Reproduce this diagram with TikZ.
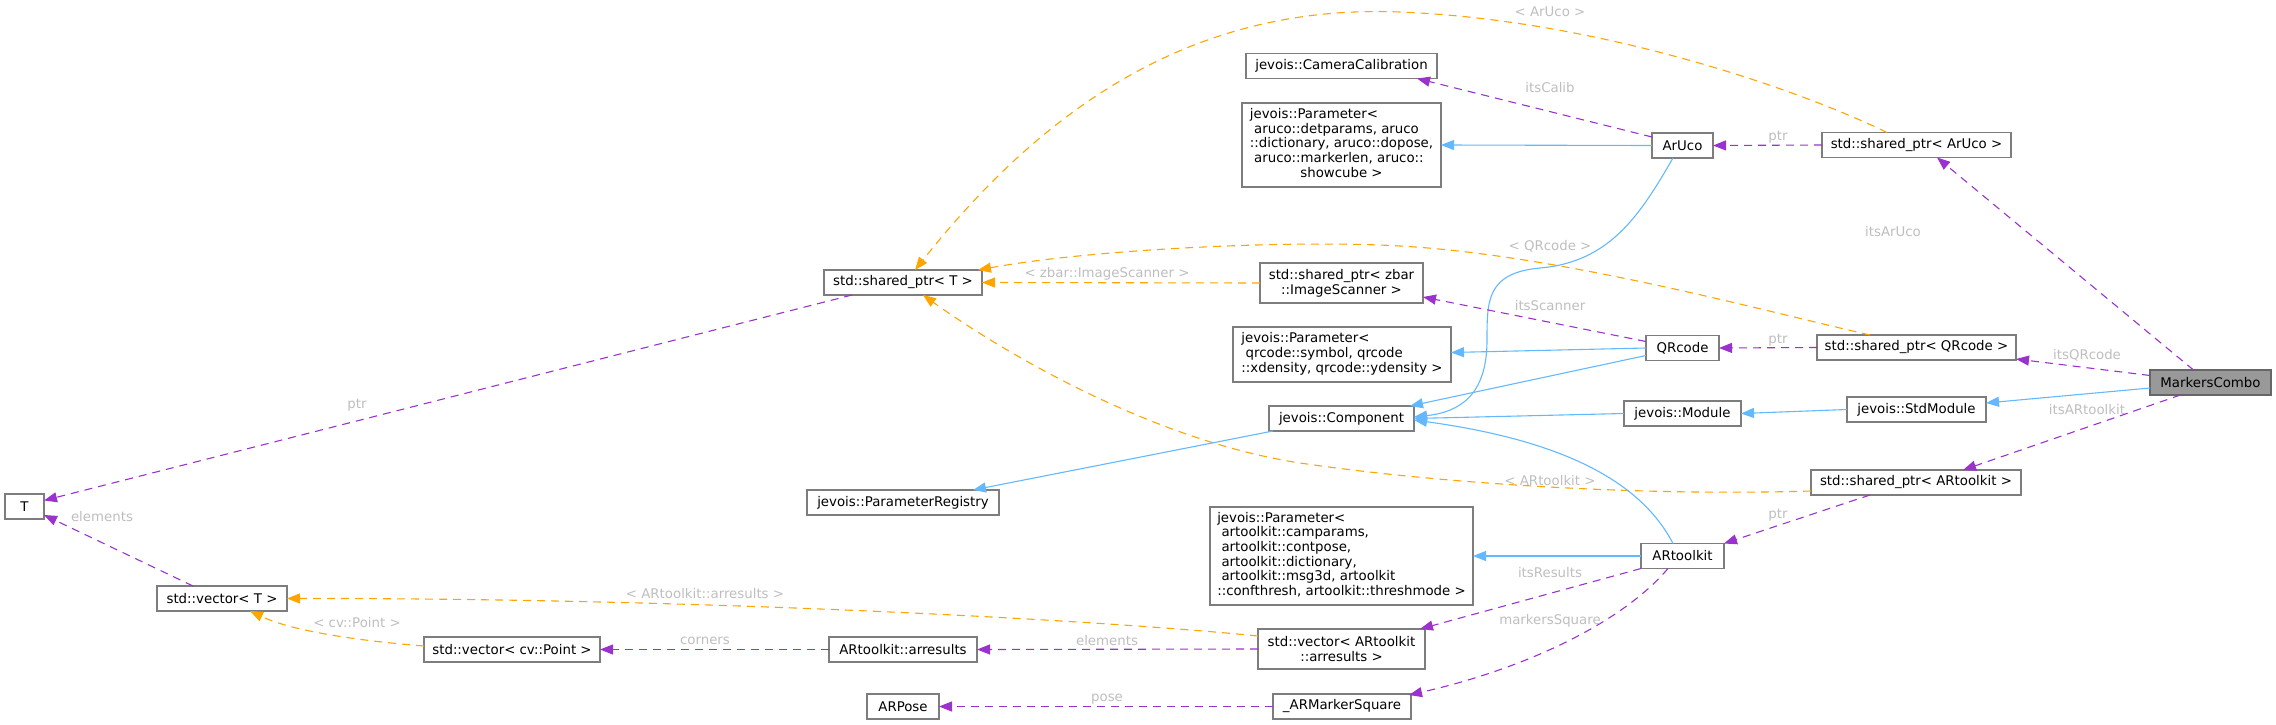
\documentclass[tikz,border=0pt]{standalone}
\usepackage{fontspec}
\setmainfont{DejaVu Sans}
\usetikzlibrary{arrows.meta,calc}
\definecolor{edgepurple}{RGB}{154,50,205}
\definecolor{edgeorange}{RGB}{255,165,0}
\definecolor{edgeblue}{RGB}{99,184,255}
\definecolor{boxgray}{RGB}{125,125,125}
\definecolor{labelgray}{RGB}{190,190,190}
\definecolor{rootfill}{RGB}{153,153,153}
\tikzset{
  cls/.style={draw=boxgray, line width=1.3pt, fill=white, inner sep=0pt, outer sep=0pt, align=center, font=\fontsize{13.33}{14.67}\selectfont},
  rootcls/.style={cls, fill=rootfill, draw={rgb,255:red,102;green,102;blue,102}},
  inh/.style={draw=edgeblue, line width=1.1pt, -{Triangle[length=13pt,width=10pt]}},
  usage/.style={draw=edgepurple, line width=1.1pt, dash pattern=on 8pt off 6pt, -{Triangle[length=13pt,width=10pt]}},
  tmpl/.style={draw=edgeorange, line width=1.1pt, dash pattern=on 8pt off 6pt, -{Triangle[length=13pt,width=10pt]}},
  elab/.style={text=labelgray, font=\fontsize{13.33}{14.67}\selectfont, inner sep=0pt},
}
\begin{document}
\begin{tikzpicture}[x=1pt,y=-1pt]
\useasboundingbox (0,0) rectangle (2276,725);
% ---- nodes
\node[cls, minimum width=39pt, minimum height=25pt] (T) at (24.5,506.5) {T};
\node[cls, minimum width=130pt, minimum height=25pt] (vecT) at (222,598.5) {std::vector< T >};
\node[cls, minimum width=176pt, minimum height=25pt] (vecPt) at (512,649.5) {std::vector< cv::Point >};
\node[cls, minimum width=158pt, minimum height=25pt] (spT) at (903,282.5) {std::shared\_ptr< T >};
\node[cls, minimum width=192pt, minimum height=25pt] (preg) at (903,502.5) {jevois::ParameterRegistry};
\node[cls, minimum width=148pt, minimum height=25pt] (arres) at (903,649.5) {ARtoolkit::arresults};
\node[cls, minimum width=72pt, minimum height=25pt] (arpose) at (903,706.5) {ARPose};
\node[cls, minimum width=191pt, minimum height=25pt] (camcal) at (1341.5,66) {jevois::CameraCalibration};
\node[cls, minimum width=199pt, minimum height=84pt] (parAruco) at (1341.5,145) {\begin{tabular}{@{}l@{}}jevois::Parameter<\\\ aruco::detparams, aruco\\::dictionary, aruco::dopose,\\\ aruco::markerlen, aruco::\\\multicolumn{1}{@{}c@{}}{showcube >}\end{tabular}};
\node[cls, minimum width=163pt, minimum height=40pt] (spZbar) at (1341.5,283) {std::shared\_ptr< zbar\\::ImageScanner >};
\node[cls, minimum width=218pt, minimum height=55pt] (parQr) at (1342,354.5) {\begin{tabular}{@{}l@{}}jevois::Parameter<\\\ qrcode::symbol, qrcode\\::xdensity, qrcode::ydensity >\end{tabular}};
\node[cls, minimum width=145pt, minimum height=25pt] (comp) at (1341.5,418.5) {jevois::Component};
\node[cls, minimum width=263pt, minimum height=98pt] (parAR) at (1341.5,556) {\begin{tabular}{@{}l@{}}jevois::Parameter<\\\ artoolkit::camparams,\\\ artoolkit::contpose,\\\ artoolkit::dictionary,\\\ artoolkit::msg3d, artoolkit\\::confthresh, artoolkit::threshmode >\end{tabular}};
\node[cls, minimum width=167pt, minimum height=40pt] (vecAR) at (1341.5,649) {std::vector< ARtoolkit\\::arresults >};
\node[cls, minimum width=138pt, minimum height=25pt] (arms) at (1342,706.5) {\_ARMarkerSquare};
\node[cls, minimum width=61pt, minimum height=25pt] (aruco) at (1682.5,145.5) {ArUco};
\node[cls, minimum width=73pt, minimum height=25pt] (qrcode) at (1682.5,348) {QRcode};
\node[cls, minimum width=117pt, minimum height=25pt] (module) at (1682.5,413.5) {jevois::Module};
\node[cls, minimum width=83pt, minimum height=25pt] (artk) at (1682.5,556) {ARtoolkit};
\node[cls, minimum width=189pt, minimum height=25pt] (spAruco) at (1916.5,145) {std::shared\_ptr< ArUco >};
\node[cls, minimum width=199pt, minimum height=25pt] (spQr) at (1916.5,347.5) {std::shared\_ptr< QRcode >};
\node[cls, minimum width=139pt, minimum height=25pt] (stdmod) at (1916.5,409.5) {jevois::StdModule};
\node[cls, minimum width=210pt, minimum height=25pt] (spAR) at (1916,482.5) {std::shared\_ptr< ARtoolkit >};
\node[rootcls, minimum width=121pt, minimum height=25pt] (mc) at (2210.5,382.5) {MarkersCombo};
% ---- edges from MarkersCombo
\draw[inh] ($(mc.west)+(0,5.5)$) -- ($(stdmod.east)+(0,-6.5)$);
\draw[usage] ($(mc.north)+(-17,0)$) -- ($(spAruco.south)+(20.5,0)$);
\draw[usage] ($(mc.west)+(0,-7)$) -- ($(spQr.east)+(0,11.5)$);
\draw[usage] ($(mc.south)+(-30,0)$) -- ($(spAR.north)+(47,0)$);
% ---- shared_ptr edges
\draw[usage] (spAruco.west) -- (aruco.east);
\draw[tmpl] ($(spAruco.north)+(-29.5,0)$) .. controls (1800,90) and (1600,20) .. (1400,12) .. controls (1200,4) and (1050,100) .. ($(spT.north)+(12,0)$);
\draw[usage] (spQr.west) -- (qrcode.east);
\draw[tmpl] ($(spQr.north)+(-46.5,0)$) .. controls (1760,310) and (1560,255) .. (1400,246) .. controls (1300,240) and (1100,248) .. ($(spT.north east)+(-4,0)$);
\draw[tmpl] (spZbar.west) -- (spT.east);
\draw[tmpl] ($(spAR.west)+(0,8.5)$) .. controls (1650,496) and (1450,485) .. (1300,463) .. controls (1150,440) and (1000,350) .. ($(spT.south)+(20,0)$);
\draw[usage] ($(spAR.south)+(-46,0)$) -- (artk.north east);
% ---- ArUco
\draw[usage] ($(aruco.north west)+(0,4)$) -- ($(camcal.south)+(75.5,0)$);
\draw[inh] (aruco.west) -- (parAruco.east);
\draw[inh] ($(aruco.south)+(-9.5,0)$) .. controls (1640,215) and (1610,262) .. (1540,268) .. controls (1487,273) and (1487,300) .. (1487,340) .. controls (1487,395) and (1460,412) .. ($(comp.east)+(0,-1.5)$);
% ---- QRcode
\draw[inh] (qrcode.west) -- ($(parQr.east)+(0,-2)$);
\draw[inh] ($(qrcode.south west)+(0,-5)$) -- ($(comp.north east)+(-4,0)$);
\draw[usage] ($(qrcode.north west)+(0,6)$) -- ($(spZbar.south east)+(0,-6)$);
% ---- Module
\draw[inh] (module.west) -- (comp.east);
\draw[inh] (stdmod.west) -- (module.east);
\draw[inh] ($(comp.south west)+(4,0)$) -- ($(preg.north east)+(-26,0)$);
% ---- ARtoolkit
\draw[inh] (artk.west) -- (parAR.east);
\draw[inh] ($(artk.north)+(-9.5,0)$) .. controls (1640,480) and (1560,440) .. ($(comp.east)+(0,1.5)$);
\draw[usage] (artk.south west) -- ($(vecAR.north east)+(-5,0)$);
\draw[usage] ($(artk.south)+(-14.5,0)$) .. controls (1620,625) and (1520,670) .. ($(arms.north east)+(-2,1)$);
% ---- left part
\draw[usage] ($(spT.south west)+(28,0)$) -- ($(T.east)+(0,-6)$);
\draw[usage] ($(vecT.north)+(-29,0)$) -- ($(T.south east)+(0,-4)$);
\draw[tmpl] ($(vecPt.west)+(0,-3.5)$) .. controls (350,640) and (290,630) .. ($(vecT.south)+(28,0)$);
\draw[tmpl] ($(vecAR.north west)+(0,7)$) .. controls (1100,620) and (700,598) .. (vecT.east);
\draw[usage] (vecAR.west) -- (arres.east);
\draw[usage] (arres.west) -- (vecPt.east);
\draw[usage] (arms.west) -- (arpose.east);
% ---- edge labels
\node[elab] (lItsArUco) at (1893,232) {itsArUco};
\node[elab] (lItsQR) at (2087,355) {itsQRcode};
\node[elab] (lItsAR) at (2087,410) {itsARtoolkit};
\node[elab] (lPtrA) at (1778,137) {ptr};
\node[elab] (lPtrQ) at (1778,340) {ptr};
\node[elab] (lPtrR) at (1778,515) {ptr};
\node[elab] (lArUcoT) at (1550,12) {< ArUco >};
\node[elab] (lQRT) at (1550,246) {< QRcode >};
\node[elab] (lART) at (1550,481) {< ARtoolkit >};
\node[elab] (lCalib) at (1550,88) {itsCalib};
\node[elab] (lScanner) at (1550,306) {itsScanner};
\node[elab] (lResults) at (1550,573) {itsResults};
\node[elab] (lMarkers) at (1550,621) {markersSquare};
\node[elab] (lZbar) at (1107,274) {< zbar::ImageScanner >};
\node[elab] (lElemAR) at (1107,641) {elements};
\node[elab] (lPose) at (1107,699) {pose};
\node[elab] (lArres) at (705,594) {< ARtoolkit::arresults >};
\node[elab] (lCorners) at (705,641) {corners};
\node[elab] (lPtrT) at (357,405) {ptr};
\node[elab] (lElemT) at (102,517) {elements};
\node[elab] (lCvPt) at (357,623) {< cv::Point >};
\end{tikzpicture}
\end{document}
